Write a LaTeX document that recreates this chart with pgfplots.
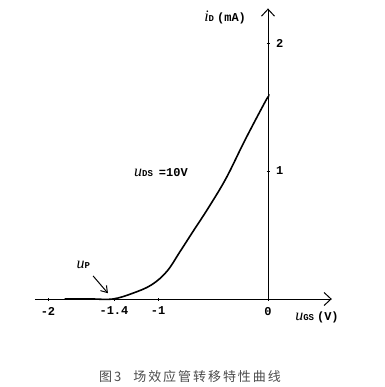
\documentclass[border=0pt]{standalone}
\usepackage{fontspec}
\setmainfont{Liberation Serif}
\newfontfamily\cjk[LetterSpace=15]{Noto Sans CJK SC}
\newfontfamily\mono{Liberation Mono}
\usepackage{pgfplots}
\pgfplotsset{compat=1.18}
\usetikzlibrary{arrows.meta}

\begin{document}
\begin{tikzpicture}
\begin{axis}[
  anchor=origin, at={(268pt,-299pt)},
  x=110pt, y=128pt,
  axis lines=middle,
  xmin=-2.12, xmax=0.58, ymin=0, ymax=2.27,
  axis line style={line width=1pt, -{Straight Barb[length=7pt,width=13pt,line width=1pt]}},
  xtick={-2,-1.4,-1,0}, xticklabels={-2,-1.4,-1,0},
  ytick={1,2}, yticklabels={1,2},
  hide obscured x ticks=false,
  hide obscured y ticks=false,
  tick style={line width=0.5pt, black},
  major tick length=3pt,
  xticklabel style={font=\mono\bfseries\fontsize{12}{12}\selectfont, yshift=-3pt},
  yticklabel style={font=\mono\bfseries\fontsize{12}{12}\selectfont, anchor=west, xshift=6pt},
  clip=false,
]
\addplot[black, line width=1.6pt, smooth, tension=0.6] coordinates {
  (-1.85,0) (-1.6,0) (-1.41,0) (-1.23,0.045) (-1.06,0.11) (-0.92,0.215)
  (-0.80,0.37) (-0.68,0.53) (-0.54,0.715) (-0.38,0.945) (-0.21,1.24) (-0.02,1.55) (0,1.57)
};
\node[font=\fontsize{12}{12}\selectfont] at (axis cs:-0.973,0.99) {{\fontsize{16}{16}\selectfont\textit{u}}{\mono\bfseries\fontsize{9}{9}\selectfont DS}\ \ {\mono\bfseries =10V}};
\node[font=\fontsize{12}{12}\selectfont] at (axis cs:-1.68,0.27) {{\fontsize{16}{16}\selectfont\textit{u}}{\mono\bfseries\fontsize{9}{9}\selectfont P}};
\draw[line width=1pt, -{Straight Barb[length=6pt,width=8pt,line width=1pt]}] (axis cs:-1.59,0.18) -- (axis cs:-1.455,0.045);
\node[font=\fontsize{12}{12}\selectfont] at (axis cs:-0.39,2.20) {{\fontsize{16}{16}\selectfont\textit{i}}{\mono\bfseries\fontsize{9}{9}\selectfont D}\ {\mono\bfseries (mA)}};
\node[font=\fontsize{12}{12}\selectfont] at (axis cs:0.445,-0.14) {{\fontsize{16}{16}\selectfont\textit{u}}{\mono\bfseries\fontsize{9}{9}\selectfont GS}\ {\mono\bfseries (V)}};
\end{axis}
\node[text=black!70, font=\cjk\fontsize{13}{13}\selectfont] at (190pt,-377pt) {图3\hspace{12pt}场效应管转移特性曲线};
\pgfresetboundingbox
\path[use as bounding box] (0,0) rectangle (384pt,-387pt);
\end{tikzpicture}
\end{document}
